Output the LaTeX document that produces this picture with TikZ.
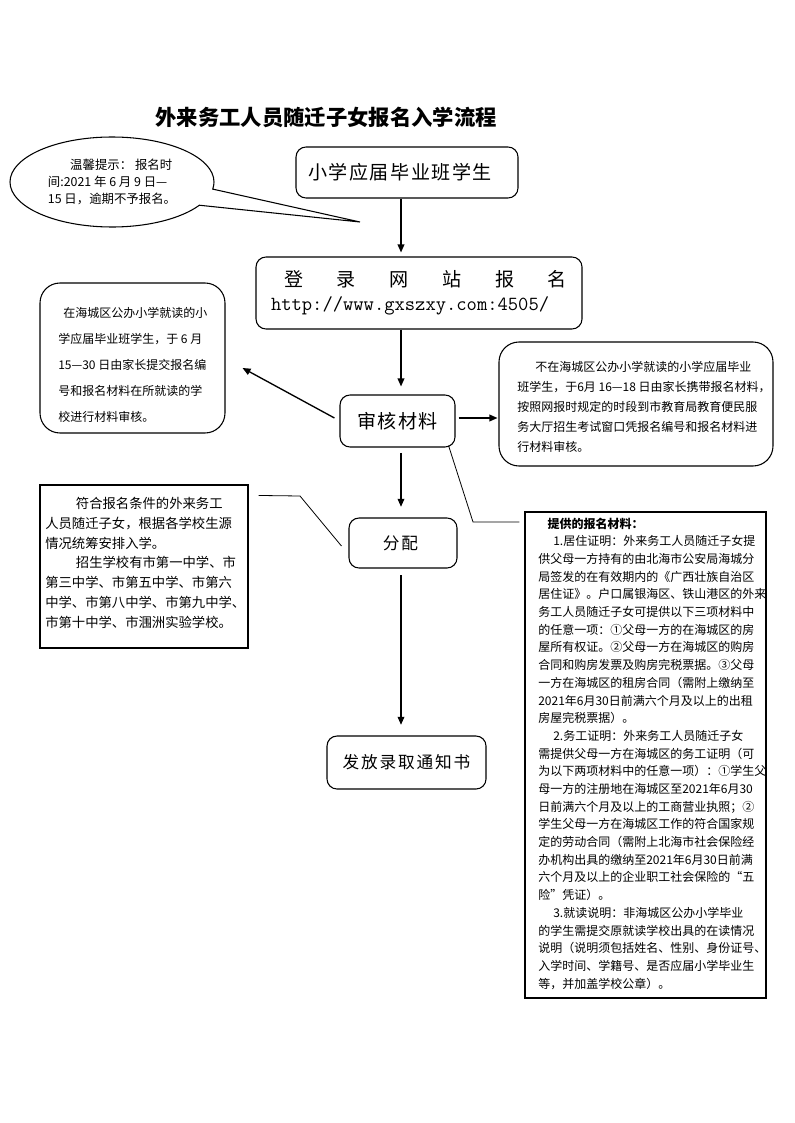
\documentclass[tikz,border=0pt]{standalone}
\usepackage{fontspec}
\setmainfont{Noto Sans CJK SC}
\newfontfamily\cjkwide{Noto Sans CJK SC}[LetterSpace=8]
\newfontfamily\cjkmid{Noto Sans CJK SC}[LetterSpace=11]
\usetikzlibrary{arrows.meta,shapes.geometric,shapes.callouts}
\tikzset{
  box/.style={draw, rounded corners=7.5pt, line width=0.8pt, inner sep=0pt, align=center},
  bigbox/.style={draw, rounded corners=15pt, line width=0.8pt, inner sep=0pt},
  rectbox/.style={draw, line width=0.8pt, inner sep=0pt},
  txt/.style={inner sep=0pt, anchor=north west, align=left},
  arr/.style={line width=1pt, -{Triangle[length=6pt,width=5pt]}},
  ln/.style={line width=0.6pt},
}
\begin{document}
\begin{tikzpicture}[x=0.75pt,y=-0.75pt]
\fill[white] (0,0) rectangle (794,1123);
\useasboundingbox (0,0) rectangle (794,1123);

\node[inner sep=0pt, font=\bfseries\fontsize{16}{18}\selectfont] (title) at (326,117) {外来务工人员随迁子女报名入学流程};

% callout
\coordinate (pt) at (360,222);
\node[ellipse callout, draw, line width=0.8pt, minimum width=153pt, minimum height=67.5pt, inner sep=0pt,
      callout absolute pointer={(pt)}, callout pointer arc=22,
      font=\fontsize{9.3}{13}\selectfont, align=left] (tip) at (112,182)
  {\hspace*{1.8em}温馨提示： 报名时\\间:2021 年 6 月 9 日—\\15 日，逾期不予报名。};

% main flow boxes
\node[box, minimum width=166.5pt, minimum height=38.25pt, font=\cjkwide\fontsize{14.3}{16}\selectfont] (b1) at (407,172.5)
  {小学应届毕业班学生\hspace*{10.5pt}};
\node[box, minimum width=244.5pt, minimum height=54pt, align=left, font=\fontsize{14.3}{18}\selectfont] (b2) at (419,293)
  {\hspace*{9.75pt}\hbox to 212.25pt{登\hfill 录\hfill 网\hfill 站\hfill 报\hfill 名}\\{\ttfamily\fontsize{15}{18}\selectfont http://www.gxszxy.com:4505/}};
\node[box, minimum width=86.25pt, minimum height=39pt, font=\cjkwide\fontsize{14.3}{16}\selectfont] (b3) at (397.5,421) {审核材料};
\node[box, minimum width=81pt, minimum height=37.5pt, font=\cjkmid\fontsize{12.5}{14}\selectfont] (b4) at (403,543) {分配\hspace*{4pt}};
\node[box, minimum width=119.25pt, minimum height=39.75pt, font=\cjkmid\fontsize{12.5}{14}\selectfont] (b5) at (406.5,762.5) {发放录取通知书};

% side boxes
\node[bigbox, minimum width=138.75pt, minimum height=112.5pt] (lb) at (132.5,358) {};
\node[txt, font=\fontsize{9}{19.5}\selectfont] (lbt) at (58,307.5)
  {\hspace*{3.75pt}在海城区公办小学就读的小\\
   学应届毕业班学生，于 6 月\\
   15—30 日由家长提交报名编\\
   号和报名材料在所就读的学\\
   校进行材料审核。};

\node[bigbox, minimum width=205.5pt, minimum height=93pt] (rb) at (636,404) {};
\node[txt, font=\fontsize{9}{15}\selectfont] (rbt) at (517,361.5)
  {\hspace*{13.5pt}不在海城区公办小学就读的小学应届毕业\\
   班学生，于6月 16—18 日由家长携带报名材料，\\
   按照网报时规定的时段到市教育局教育便民服\\
   务大厅招生考试窗口凭报名编号和报名材料进\\
   行材料审核。};

\node[rectbox, minimum width=156pt, minimum height=122.25pt] (lr) at (144,566.5) {};
\node[txt, font=\fontsize{10}{14.85}\selectfont] (lrt) at (45,497)
  {\hspace*{2.3em}符合报名条件的外来务工\\
   人员随迁子女，根据各学校生源\\
   情况统筹安排入学。\\
   \hspace*{2.3em}招生学校有市第一中学、市\\
   第三中学、市第五中学、市第六\\
   中学、市第八中学、市第九中学、\\
   市第十中学、市涠洲实验学校。};

\node[rectbox, minimum width=180.75pt, minimum height=364.5pt] (rr) at (645.5,755) {};
\node[txt, font=\fontsize{9}{13.27}\selectfont] (rrt) at (538,517.5)
  {\hspace*{7pt}{\bfseries 提供的报名材料：}\\
   \hspace*{1.25em}1.居住证明：外来务工人员随迁子女提\\
   供父母一方持有的由北海市公安局海城分\\
   局签发的在有效期内的《广西壮族自治区\\
   居住证》。户口属银海区、铁山港区的外来\\
   务工人员随迁子女可提供以下三项材料中\\
   的任意一项：①父母一方的在海城区的房\\
   屋所有权证。②父母一方在海城区的购房\\
   合同和购房发票及购房完税票据。③父母\\
   一方在海城区的租房合同（需附上缴纳至\\
   2021年6月30日前满六个月及以上的出租\\
   房屋完税票据）。\\
   \hspace*{1.25em}2.务工证明：外来务工人员随迁子女\\
   需提供父母一方在海城区的务工证明（可\\
   为以下两项材料中的任意一项）：①学生父\\
   母一方的注册地在海城区至2021年6月30\\
   日前满六个月及以上的工商营业执照；②\\
   学生父母一方在海城区工作的符合国家规\\
   定的劳动合同（需附上北海市社会保险经\\
   办机构出具的缴纳至2021年6月30日前满\\
   六个月及以上的企业职工社会保险的“五\\
   险”凭证）。\\
   \hspace*{1.25em}3.就读说明：非海城区公办小学毕业\\
   的学生需提交原就读学校出具的在读情况\\
   说明（说明须包括姓名、性别、身份证号、\\
   入学时间、学籍号、是否应届小学毕业生\\
   等，并加盖学校公章）。};

% connectors
\coordinate (vx) at (401,0);
\draw[arr, shorten >=3pt] (b1.south -| vx) -- (b2.north -| vx);
\draw[arr, shorten >=6pt] (b2.south -| vx) -- (b3.north -| vx);
\draw[arr, shorten <=4pt, shorten >=8pt] (b3.south -| vx) -- (b4.north -| vx);
\draw[arr, shorten <=5pt, shorten >=8pt] (b4.south -| vx) -- (b5.north -| vx);
\draw[arr] ([xshift=2.25pt,yshift=2.25pt]b3.east) -- ([xshift=-0.75pt,yshift=2.25pt]b3.east -| rb.west);
\draw[arr] ([xshift=-3.75pt,yshift=2.25pt]b3.west) -- ([xshift=12.75pt,yshift=-7.5pt]lb.east);

\coordinate (lrbend) at (300,496);
\draw[ln] ([xshift=7.5pt,yshift=-8.25pt]lr.north east) -- (lrbend) -- ([xshift=-5.25pt,yshift=-2.25pt]b4.west);
\coordinate (rrbend) at (473,522);
\draw[ln] ([xshift=-5.25pt,yshift=1.5pt]b3.south east) -- (rrbend) -- ([xshift=-3.75pt]rrbend -| rr.west);
\end{tikzpicture}
\end{document}
